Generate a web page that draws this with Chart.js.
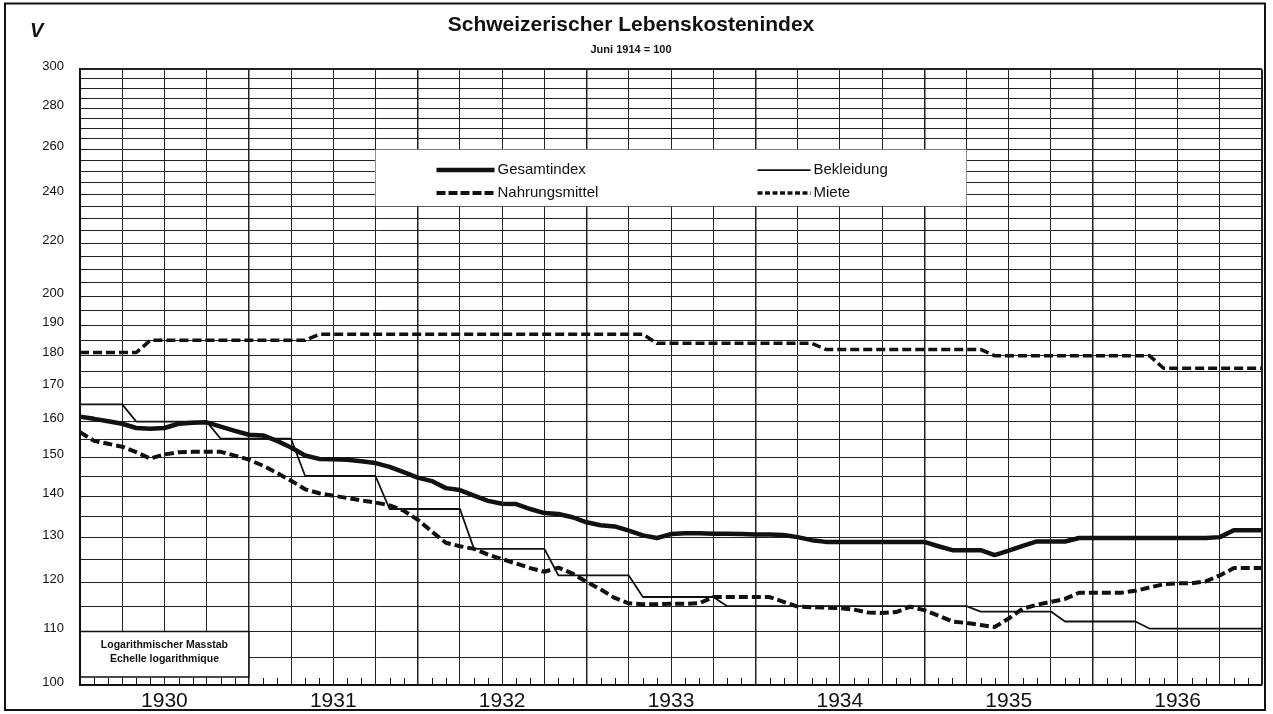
<!DOCTYPE html>
<html lang="de">
<head>
<meta charset="utf-8">
<title>Schweizerischer Lebenskostenindex</title>
<script src="https://cdn.jsdelivr.net/npm/chart.js@4"></script>
<style>
  html, body { margin: 0; padding: 0; background: #fff; }
  canvas { display: block; }
</style>
</head>
<body>
<canvas id="myChart" width="1273" height="714"></canvas>
<script>
// Monatswerte Jan 1930 .. Ende 1936 (85 Punkte, Index 0 = Anfang 1930)
const jahre = [1930, 1931, 1932, 1933, 1934, 1935, 1936];

const yTicks = [100, 105, 110, 115, 120, 125, 130, 135, 140, 145, 150, 155, 160, 165, 170,
  175, 180, 185, 190, 195, 200, 205, 210, 215, 220, 225, 230, 235, 240, 245, 250, 255,
  260, 265, 270, 275, 280, 285, 290, 295, 300];
const yLabels = [100, 110, 120, 130, 140, 150, 160, 170, 180, 190, 200, 220, 240, 260, 280, 300];

const gesamtindex = [
  161.4, 160.8, 160.1, 159.4, 158.2, 158, 158.2, 159.4, 159.7, 159.8, 158.6, 157.4,
  156.3, 156.1, 154.6, 152.8, 150.6, 149.7, 149.6, 149.5, 149.1, 148.6, 147.6, 146.2,
  144.8, 143.9, 142.1, 141.6, 140.2, 138.9, 138.2, 138.1, 136.9, 135.9, 135.7, 134.9,
  133.7, 133, 132.7, 131.7, 130.6, 130, 130.9, 131.1, 131.1, 131, 131, 130.9,
  130.8, 130.8, 130.7, 130.2, 129.5, 129.1, 129.1, 129.1, 129.1, 129.1, 129.1, 129.1,
  129.1, 128.1, 127.2, 127.2, 127.2, 126.1, 127.1, 128.2, 129.2, 129.2, 129.2, 130,
  130, 130, 130, 130, 130, 130, 130, 130, 130, 130.2, 131.8, 131.8, 131.8
];
const bekleidung = [
  165, 165, 165, 165, 160, 160, 160, 160, 160, 160, 155.2, 155.2,
  155.2, 155.2, 155.2, 155.2, 145.2, 145.2, 145.2, 145.2, 145.2, 145.2, 136.9, 136.9,
  136.9, 136.9, 136.9, 136.9, 127.5, 127.5, 127.5, 127.5, 127.5, 127.5, 121.6, 121.6,
  121.6, 121.6, 121.6, 121.6, 117, 117, 117, 117, 117, 117, 115.1, 115.1,
  115.1, 115.1, 115.1, 115.1, 115.1, 115.1, 115.1, 115.1, 115.1, 115.1, 115.1, 115.1,
  115.1, 115.1, 115.1, 115.1, 114, 114, 114, 114, 114, 114, 112, 112,
  112, 112, 112, 112, 110.6, 110.6, 110.6, 110.6, 110.6, 110.6, 110.6, 110.6, 110.6
];
const nahrungsmittel = [
  157, 154.6, 153.8, 153, 151.5, 149.8, 150.9, 151.5, 151.6, 151.6, 151.6, 150.6,
  149.5, 147.9, 146, 144, 141.8, 140.8, 140.2, 139.6, 139, 138.5, 137.8, 136.5,
  134.3, 131.5, 128.9, 128.1, 127.5, 126.2, 125.2, 124.2, 123.2, 122.4, 123.3, 122,
  120.2, 118.6, 116.8, 115.7, 115.5, 115.5, 115.6, 115.6, 115.7, 117, 117, 117,
  117, 117, 116, 115, 114.9, 114.8, 114.7, 114.4, 113.8, 113.7, 113.9, 115,
  114.3, 113.2, 112, 111.7, 111.3, 110.9, 112.6, 114.6, 115.4, 116, 116.6, 117.9,
  117.9, 117.9, 117.9, 118.3, 119, 119.7, 119.9, 119.9, 120.3, 121.6, 123.2, 123.2, 123.2
];
const miete = [
  181, 181, 181, 181, 181, 185, 185, 185, 185, 185, 185, 185,
  185, 185, 185, 185, 185, 187, 187, 187, 187, 187, 187, 187,
  187, 187, 187, 187, 187, 187, 187, 187, 187, 187, 187, 187,
  187, 187, 187, 187, 187, 184, 184, 184, 184, 184, 184, 184,
  184, 184, 184, 184, 184, 182, 182, 182, 182, 182, 182, 182,
  182, 182, 182, 182, 182, 180, 180, 180, 180, 180, 180, 180,
  180, 180, 180, 180, 180, 176, 176, 176, 176, 176, 176, 176, 176
];

const schrift = "'Liberation Sans', Arial, sans-serif";
const farbe = "#111";
const monateTotal = jahre.length * 12;

const quartale = [];
for (let m = 0; m <= monateTotal; m += 3) quartale.push(m);

const alsPunkte = (werte) => werte.map((v, i) => ({ x: i, y: v }));

const linie = (label, werte, breite, strich) => ({
  label: label,
  data: alsPunkte(werte),
  borderColor: farbe,
  borderWidth: breite,
  borderDash: strich,
  borderCapStyle: "butt",
  borderJoinStyle: "round",
  pointRadius: 0,
  tension: 0,
  fill: false,
});

// Legende: Spalte, Zeile, Strichmuster fuer das Muster
const legende = [
  { ds: 0, spalte: 0, zeile: 0, dash: [] },
  { ds: 2, spalte: 0, zeile: 1, dash: [9, 3] },
  { ds: 1, spalte: 1, zeile: 0, dash: [] },
  { ds: 3, spalte: 1, zeile: 1, dash: [5, 2.5] },
];

const kastenPlugin = {
  id: "kasten",
  beforeDatasetsDraw(chart) {
    const { ctx, chartArea, scales } = chart;
    const x = scales.x;
    const y = scales.y;
    ctx.save();

    // Legendenkasten
    const lx0 = x.getPixelForValue(21);
    const lx1 = x.getPixelForValue(63);
    const ly0 = y.getPixelForValue(260);
    const ly1 = y.getPixelForValue(235);
    ctx.fillStyle = "#fff";
    ctx.fillRect(lx0, ly0, lx1 - lx0, ly1 - ly0);

    ctx.font = "15px " + schrift;
    ctx.textBaseline = "middle";
    ctx.textAlign = "left";
    for (const e of legende) {
      const ds = chart.data.datasets[e.ds];
      const sx = lx0 + (e.spalte === 0 ? 61 : 382);
      const sl = e.spalte === 0 ? 58 : 53;
      const sy = ly0 + 20.5 + e.zeile * 23;
      ctx.strokeStyle = farbe;
      ctx.lineWidth = ds.borderWidth;
      ctx.setLineDash(e.dash);
      ctx.beginPath();
      ctx.moveTo(sx, sy);
      ctx.lineTo(sx + sl, sy);
      ctx.stroke();
      ctx.setLineDash([]);
      ctx.fillStyle = farbe;
      ctx.fillText(ds.label, sx + sl + 3, sy);
    }

    // Kasten "Logarithmischer Masstab"
    const bx0 = chartArea.left;
    const bx1 = x.getPixelForValue(12);
    const by0 = y.getPixelForValue(110);
    const by1 = chartArea.bottom - 8;
    ctx.fillStyle = "#fff";
    ctx.fillRect(bx0 + 1, by0, bx1 - bx0 - 1, by1 - by0);
    ctx.strokeStyle = farbe;
    ctx.lineWidth = 1.5;
    ctx.beginPath();
    ctx.moveTo(bx0, by0);
    ctx.lineTo(bx1, by0);
    ctx.lineTo(bx1, by1);
    ctx.lineTo(bx0, by1);
    ctx.stroke();
    ctx.fillStyle = farbe;
    ctx.font = "bold 10.5px " + schrift;
    ctx.textAlign = "center";
    ctx.fillText("Logarithmischer Masstab", (bx0 + bx1) / 2, by0 + 14);
    ctx.fillText("Echelle logarithmique", (bx0 + bx1) / 2, by0 + 28);

    // Monatsstriche am unteren Rand
    ctx.lineWidth = 1;
    ctx.beginPath();
    for (let m = 1; m < monateTotal; m++) {
      if (m % 3 === 0) continue;
      const px = Math.round(x.getPixelForValue(m)) + 0.5;
      ctx.moveTo(px, chartArea.bottom);
      ctx.lineTo(px, chartArea.bottom - 7);
    }
    ctx.stroke();
    ctx.restore();
  },
  afterDraw(chart) {
    const { ctx } = chart;
    ctx.save();
    ctx.strokeStyle = farbe;
    ctx.lineWidth = 2;
    ctx.strokeRect(5, 3.5, 1260, 706.5);
    ctx.fillStyle = farbe;
    ctx.font = "italic bold 20px " + schrift;
    ctx.textAlign = "left";
    ctx.textBaseline = "alphabetic";
    ctx.fillText("V", 30, 37);
    ctx.restore();
  },
};

new Chart(document.getElementById("myChart"), {
  type: "line",
  data: {
    datasets: [
      linie("Gesamtindex", gesamtindex, 4.5, []),
      linie("Bekleidung", bekleidung, 1.8, []),
      linie("Nahrungsmittel", nahrungsmittel, 4, [9, 4]),
      linie("Miete", miete, 3.5, [9, 4]),
    ],
  },
  options: {
    responsive: false,
    animation: false,
    events: [],
    layout: { padding: { left: 0, right: 11, top: 0, bottom: 0 } },
    plugins: {
      legend: { display: false },
      tooltip: { enabled: false },
      title: {
        display: true,
        text: "Schweizerischer Lebenskostenindex",
        color: farbe,
        font: { family: schrift, size: 21, weight: "bold" },
        padding: { top: 13, bottom: 5 },
      },
      subtitle: {
        display: true,
        text: "Juni 1914 = 100",
        color: farbe,
        font: { family: schrift, size: 11, weight: "bold" },
        padding: { top: 0, bottom: 13 },
      },
    },
    scales: {
      x: {
        type: "linear",
        min: 0,
        max: monateTotal,
        weight: 0,
        afterBuildTicks: (s) => {
          s.ticks = quartale.map((v) => ({ value: v }));
        },
        afterFit: (s) => {
          s.height = 0;
        },
        ticks: { display: false, autoSkip: false },
        grid: {
          drawTicks: false,
          color: "#222",
          lineWidth: (c) => {
            const v = c.tick ? c.tick.value : -1;
            if (v === monateTotal) return 2;
            return v % 12 === 0 ? 1.5 : 1;
          },
        },
        border: { display: true, color: farbe, width: 2 },
      },
      x2: {
        type: "linear",
        position: "bottom",
        min: 0,
        max: monateTotal,
        weight: 1,
        afterBuildTicks: (s) => {
          s.ticks = jahre.map((j, i) => ({ value: i * 12 + 6 }));
        },
        afterFit: (s) => {
          s.height = 29;
        },
        ticks: {
          autoSkip: false,
          maxRotation: 0,
          padding: 4,
          color: farbe,
          font: { family: schrift, size: 21 },
          callback: (v) => jahre[(v - 6) / 12],
        },
        grid: { display: false, drawTicks: false },
        border: { display: false },
      },
      y: {
        type: "logarithmic",
        min: 100,
        max: 300,
        afterBuildTicks: (s) => {
          s.ticks = yTicks.map((v) => ({ value: v }));
        },
        afterFit: (s) => {
          s.width = 80;
        },
        ticks: {
          autoSkip: false,
          padding: 16,
          labelOffset: -3,
          color: farbe,
          font: { family: schrift, size: 13 },
          callback: (v) => (yLabels.includes(v) ? String(v) : ""),
        },
        grid: {
          drawTicks: false,
          color: "#222",
          lineWidth: (c) => (c.tick && c.tick.value === 300 ? 2 : 1),
        },
        border: { display: true, color: farbe, width: 2 },
      },
    },
  },
  plugins: [kastenPlugin],
});
</script>
</body>
</html>
